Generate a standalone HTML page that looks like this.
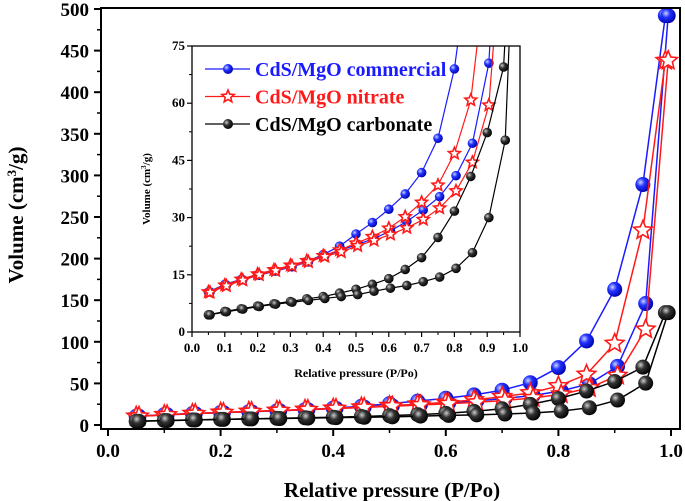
<!DOCTYPE html>
<html><head><meta charset="utf-8"><style>
html,body{margin:0;padding:0;background:#fff;}
svg{display:block;font-family:"Liberation Serif",serif;font-weight:bold;}
</style></head><body>
<svg id="chart" width="685" height="501" viewBox="0 0 685 501">
<defs>
<radialGradient id="gb" cx="0.35" cy="0.35" r="0.7"><stop offset="0" stop-color="#ccd4ff"/><stop offset="0.4" stop-color="#2233ff"/><stop offset="1" stop-color="#0000aa"/></radialGradient>
<radialGradient id="gk" cx="0.35" cy="0.35" r="0.7"><stop offset="0" stop-color="#cccccc"/><stop offset="0.4" stop-color="#333"/><stop offset="1" stop-color="#000"/></radialGradient>
<clipPath id="insetClip"><rect x="192" y="46" width="328" height="286"/></clipPath>
</defs>
<g id="main"></g>
<g id="inset"></g>
</svg>
<script>
const pressures=[0.05,0.1,0.15,0.2,0.25,0.3,0.35,0.4,0.45,0.5,0.55,0.6,0.65,0.7,0.75,0.8,0.85,0.9,0.95,0.99];
const commercialA=[10.5,12.5,13.8,15,16,17.2,18.5,20.3,22.5,25.7,28.7,32.2,36.2,41.8,50.8,69,101,163,289,492];
const commercialB=[10.5,12.3,13.7,14.9,16,17.1,18.4,20,21.5,23,24.5,26.5,29,32,35.5,41,49.5,70.5,146,492];
const nitrateA=[10.5,12.3,13.8,15.2,16.3,17.5,18.7,20,21.5,23.3,25,27.2,30.2,34,38.5,46.8,60.8,98,234,438];
const nitrateB=[10.4,12.1,13.6,15,16.1,17.3,18.4,19.8,21,22.6,24,25.6,27.3,29.5,32.5,37,44.5,59.5,115,438];
const carbonateA=[4.5,5.4,6.1,6.8,7.4,8,8.7,9.3,10.2,11.2,12.5,14,16.4,19.5,24.8,31.7,40.8,52.3,69.5,135];
const carbonateB=[4.5,5.3,6,6.7,7.3,7.8,8.3,8.8,9.3,9.8,10.7,11.5,12.2,13.2,14.4,16.7,20.8,30,50.3,135];
const mainXTicks=[0,0.2,0.4,0.6,0.8,1.0];
const mainYTicks=[0,50,100,150,200,250,300,350,400,450,500];
const insetXTicks=[0,0.1,0.2,0.3,0.4,0.5,0.6,0.7,0.8,0.9,1.0];
const insetYTicks=[0,15,30,45,60,75];
const legendLabels=["CdS/MgO commercial","CdS/MgO nitrate","CdS/MgO carbonate"];

const NS="http://www.w3.org/2000/svg";
function mk(parent,tag,attrs,text){const e=document.createElementNS(NS,tag);for(const k in attrs)e.setAttribute(k,attrs[k]);if(text!==undefined)e.textContent=text;parent.appendChild(e);return e;}
const mx=v=>108+v*563, my=v=>425-v*0.832;
const ix=v=>192+v*328, iy=v=>332-v*(286/75);

const series=[
 {a:commercialA,b:commercialB,color:"#1a1aff",kind:"ball",fill:"url(#gb)",name:"commercial"},
 {a:nitrateA,b:nitrateB,color:"#ff1a1a",kind:"star",name:"nitrate"},
 {a:carbonateA,b:carbonateB,color:"#000",kind:"ball",fill:"url(#gk)",name:"carbonate"}];

function star(g,cx,cy,r,color){let p=[];for(let i=0;i<10;i++){const ang=-Math.PI/2+i*Math.PI/5;const rr=i%2?r*0.45:r;p.push((cx+rr*Math.cos(ang)).toFixed(1)+","+(cy+rr*Math.sin(ang)).toFixed(1));}
 return mk(g,"polygon",{points:p.join(" "),fill:"#fff",stroke:color,"stroke-width":1.6});}
function drawSeries(g,fx,fy,r,lw,off){
 series.forEach(s=>{
  [s.a,s.b].forEach((arr,bi)=>{
   const sg=mk(g,"g",{});
   
   
   const pts=arr.map((v,i)=>[fx(pressures[i]+(bi?off:0)),fy(v)]);
   mk(sg,"polyline",{points:pts.map(p=>p.join(",")).join(" "),fill:"none",stroke:s.color,"stroke-width":lw});
   pts.forEach(p=>{let m;
    if(s.kind==="star")m=star(sg,p[0],p[1],r*1.3,s.color);
    else m=mk(sg,"circle",{cx:p[0],cy:p[1],r:r,fill:s.fill});
    
    });
  });
 });
}
// main
const gm=document.getElementById("main");
drawSeries(gm,mx,my,7.5,1.5,0.005);
const frame=mk(gm,"rect",{x:101,y:8,width:579,height:421,fill:"none",stroke:"#000","stroke-width":2});

mainXTicks.forEach(t=>{mk(gm,"line",{x1:mx(t),x2:mx(t),y1:429,y2:436,stroke:"#000","stroke-width":2});
 const l=mk(gm,"text",{x:mx(t),y:457,"text-anchor":"middle","font-size":19},t.toFixed(1));
 });
for(let t=0.1;t<1;t+=0.2)mk(gm,"line",{x1:mx(t),x2:mx(t),y1:429,y2:433,stroke:"#000","stroke-width":1.5});
mainYTicks.forEach(t=>{mk(gm,"line",{x1:94,x2:101,y1:my(t),y2:my(t),stroke:"#000","stroke-width":2});
 const l=mk(gm,"text",{x:89,y:my(t)+7,"text-anchor":"end","font-size":19},t);
 });
for(let t=25;t<500;t+=50)mk(gm,"line",{x1:97,x2:101,y1:my(t),y2:my(t),stroke:"#000","stroke-width":1.5});
const xt=mk(gm,"text",{x:392,y:497,"text-anchor":"middle","font-size":21},"Relative pressure (P/Po)");

const yt=mk(gm,"text",{x:0,y:0,"text-anchor":"middle","font-size":21,transform:"translate(23,215) rotate(-90)"});
yt.innerHTML='Volume (cm<tspan baseline-shift="super" font-size="13">3</tspan>/g)';


// inset
const gi=document.getElementById("inset");
const bg=mk(gi,"rect",{x:192,y:46,width:328,height:286,fill:"#fff"});

const gc=mk(gi,"g",{"clip-path":"url(#insetClip)"});

drawSeries(gc,ix,iy,4.8,1.2,0.005);
const ifr=mk(gi,"rect",{x:192,y:46,width:328,height:286,fill:"none",stroke:"#000","stroke-width":1.3});

insetXTicks.forEach(t=>{mk(gi,"line",{x1:ix(t),x2:ix(t),y1:332,y2:337,stroke:"#000","stroke-width":1.2});
 const l=mk(gi,"text",{x:ix(t),y:352,"text-anchor":"middle","font-size":13},t.toFixed(1));
 });
for(let t=0.05;t<1;t+=0.1)mk(gi,"line",{x1:ix(t),x2:ix(t),y1:332,y2:335,stroke:"#000","stroke-width":1});
insetYTicks.forEach(t=>{mk(gi,"line",{x1:187,x2:192,y1:iy(t),y2:iy(t),stroke:"#000","stroke-width":1.2});
 const l=mk(gi,"text",{x:185,y:iy(t)+4,"text-anchor":"end","font-size":13},t);
 });
for(let t=7.5;t<75;t+=15)mk(gi,"line",{x1:189,x2:192,y1:iy(t),y2:iy(t),stroke:"#000","stroke-width":1});
const ixt=mk(gi,"text",{x:356,y:377,"text-anchor":"middle","font-size":12},"Relative pressure (P/Po)");

const iyt=mk(gi,"text",{x:0,y:0,"text-anchor":"middle","font-size":11,transform:"translate(150,189) rotate(-90)"});
iyt.innerHTML='Volume (cm<tspan baseline-shift="super" font-size="7">3</tspan>/g)';

// legend
series.forEach((s,i)=>{const y=69+i*27.5;const lg=mk(gi,"g",{});
 
 mk(lg,"line",{x1:205,x2:250,y1:y,y2:y,stroke:s.color,"stroke-width":1.3});
 if(s.kind==="star")star(lg,228,y,6.5,s.color);else mk(lg,"circle",{cx:228,cy:y,r:5,fill:s.fill});
 mk(lg,"text",{x:255,y:y+7,"font-size":20,fill:s.color},legendLabels[i]);});
</script>
</body></html>
